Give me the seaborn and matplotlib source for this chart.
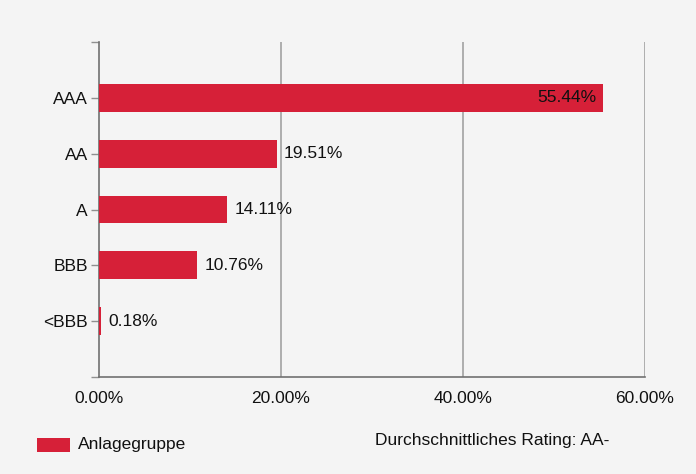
#!/usr/bin/env python3
#
# Rating distribution of the investment group
#
import numpy as np
import matplotlib
matplotlib.use('Agg')
import matplotlib.pyplot as plt
import seaborn as sns
import pandas as pd

ratings = ['AAA', 'AA', 'A', 'BBB', '<BBB']
shares = [55.44, 19.51, 14.11, 10.76, 0.18]
xticks = [0, 20, 40, 60]
series_name = 'Anlagegruppe'
note = 'Durchschnittliches Rating: AA-'

bg = '#f4f4f4'
red = '#d62038'
fs = 12.5

sns.set_theme(style='white')
plt.rcParams['font.family'] = ['Liberation Sans', 'DejaVu Sans']

fig = plt.figure(figsize=(6.96, 4.74), dpi=100, facecolor=bg)
ax = fig.add_axes([0.1422, 0.2046, 0.7845, 0.7068])
ax.set_facecolor(bg)

df = pd.DataFrame({'rating': ratings, 'share': shares})
sns.barplot(data=df, x='share', y='rating', order=ratings, color=red,
            saturation=1, width=0.5, ax=ax, zorder=3, linewidth=0,
            edgecolor='none')

ax.set_xlim(0, 60)
ax.set_ylim(5, -1)
ax.set_xticks(xticks)
ax.set_xticklabels(['%.2f%%' % v for v in xticks])
ax.set_yticks(range(len(ratings)))
ax.set_yticklabels(ratings)
ax.set_yticks([-1, 5], minor=True)
ax.set_xlabel('')
ax.set_ylabel('')

for x in xticks[1:]:
    ax.axvline(x, color='#a8a8a8', lw=1.3, zorder=1)

for s in ['top', 'right']:
    ax.spines[s].set_visible(False)
for s in ['left', 'bottom']:
    ax.spines[s].set_color('#707070')
    ax.spines[s].set_linewidth(1.2)

ax.tick_params(axis='y', which='both', left=True, length=6, width=1,
               color='#909090', labelsize=fs, pad=2, labelcolor='#111111')
ax.tick_params(axis='x', bottom=False, labelsize=fs, pad=4,
               labelcolor='#111111')

# Value labels
for i, v in enumerate(shares):
    txt = '%.2f%%' % v
    if v > 40:
        ax.text(v - 0.8, i, txt, ha='right', va='center', fontsize=fs,
                color='#111111', zorder=4)
    else:
        ax.text(v + 0.8, i, txt, ha='left', va='center', fontsize=fs,
                color='#111111', zorder=4)

# Legend and note
fig.patches.append(matplotlib.patches.Rectangle(
    (37 / 696, 1 - 452 / 474), 33 / 696, 14 / 474, transform=fig.transFigure,
    facecolor=red, edgecolor='none'))
fig.text(78 / 696, 1 - 445 / 474, series_name, ha='left', va='center',
         fontsize=fs, color='#111111')
fig.text(375 / 696, 1 - 441 / 474, note, ha='left', va='center',
         fontsize=fs, color='#111111')

fig.savefig('out.png', dpi=100, facecolor=bg)
